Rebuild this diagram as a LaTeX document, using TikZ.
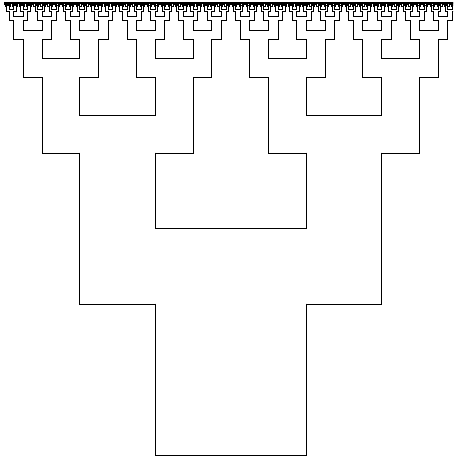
\documentclass[tikz,border=0pt]{standalone}
\tikzset{treeline/.style={draw=black,line width=0.9pt,line cap=rect,line join=miter}}
\newcommand\HfracStep[4]{%
  \begingroup
  \pgfmathsetmacro\hsAx{#1}%
  \pgfmathsetmacro\hsAy{#2}%
  \pgfmathsetmacro\hsHalf{#3/2}%
  \pgfmathsetmacro\hsLx{#1-#3/2}%
  \pgfmathsetmacro\hsBx{#1+#3}%
  \pgfmathsetmacro\hsRx{#1+1.5*#3}%
  \pgfmathsetmacro\hsMy{#2+#3/2}%
  \pgfmathsetmacro\hsTy{#2+#3}%
  \draw[treeline] (\hsAx,\hsAy) -- (\hsLx,\hsAy) -- (\hsLx,\hsTy);
  \draw[treeline] (\hsBx,\hsAy) -- (\hsRx,\hsAy) -- (\hsRx,\hsTy);
  \draw[treeline] (\hsAx,\hsTy) -- (\hsAx,\hsMy) -- (\hsBx,\hsMy) -- (\hsBx,\hsTy);
  \ifnum#4>1
    \pgfmathtruncatemacro\hsLev{#4-1}%
    \edef\hsNext{\noexpand\HfracStep{\hsLx}{\hsTy}{\hsHalf}{\hsLev}\noexpand\HfracStep{\hsBx}{\hsTy}{\hsHalf}{\hsLev}}%
    \hsNext
  \fi
  \endgroup}
\begin{document}
\begin{tikzpicture}[x=1pt,y=1pt]
  \useasboundingbox (0,0) rectangle (453,457);
  \clip (0,0) rectangle (453,457);
  \fill[white] (0,0) rectangle (453,457);
  % bottom cup
  \coordinate (cupL) at (155.3,153);
  \coordinate (cupR) at (306.3,153);
  \draw[treeline] (cupL) -- (155.3,2) -- (306.3,2) -- (cupR);
  \HfracStep{155.3}{153}{151}{9}
\end{tikzpicture}
\end{document}
